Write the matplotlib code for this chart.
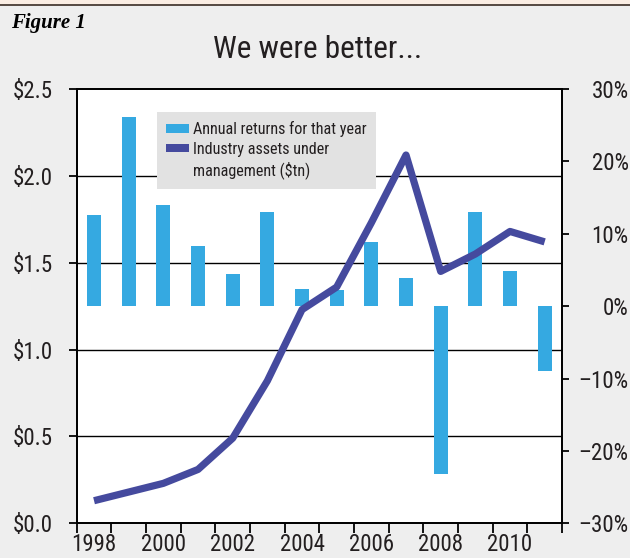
from __future__ import annotations

import matplotlib

matplotlib.use("Agg")
import matplotlib.pyplot as plt
import numpy as np
from matplotlib.patches import Patch, Rectangle
from matplotlib.lines import Line2D
from matplotlib.ticker import FixedLocator, FuncFormatter
from matplotlib.transforms import blended_transform_factory


YEARS = list(range(1998, 2012))
ANNUAL_RETURNS = [12.6, 26.2, 14.0, 8.3, 4.4, 13.0, 2.4, 2.3, 8.9, 3.9, -23.2, 13.0, 4.8, -8.9]
ASSETS_TN = [0.13, 0.18, 0.23, 0.31, 0.49, 0.82, 1.23, 1.36, 1.73, 2.12, 1.45, 1.55, 1.68, 1.62]
ASSET_TICKS = [0.0, 0.5, 1.0, 1.5, 2.0, 2.5]
RETURN_TICKS = [-30, -20, -10, 0, 10, 20, 30]
YEAR_LABELS = ["1998", "2000", "2002", "2004", "2006", "2008", "2010"]

BAR_COLOR = "#35a9e1"
LINE_COLOR = "#454a9e"
TEXT_COLOR = "#231f20"
NARROW = ["Roboto Condensed", "Liberation Sans", "DejaVu Sans"]


def main() -> None:
    plt.rcParams.update(
        {
            "font.family": NARROW,
            "font.size": 16.5,
            "text.color": TEXT_COLOR,
            "xtick.color": "black",
            "ytick.color": "black",
            "xtick.labelcolor": TEXT_COLOR,
            "ytick.labelcolor": TEXT_COLOR,
        }
    )
    fig = plt.figure(figsize=(6.3, 5.58), dpi=100, facecolor="#eeeeee")
    W, H = 630, 558

    # beige strip with rule across the top
    fig.patches.append(
        Rectangle((0, 1 - 4 / H), 1, 4 / H, transform=fig.transFigure, facecolor="#faede3", edgecolor="none")
    )
    fig.lines.append(
        Line2D([0, 1], [1 - 4.5 / H] * 2, transform=fig.transFigure, color="#3b2c24", linewidth=1.2)
    )
    fig.text(11 / W, 1 - 28 / H, "Figure 1", family=["Liberation Serif", "DejaVu Serif"],
             weight="bold", style="italic", fontsize=15, va="baseline", color="black")
    fig.text(318 / W, 1 - 58 / H, "We were better...", fontsize=22.5, ha="center", va="baseline")

    left, right, top, bottom = 76.7, 562, 89, 523.3
    ax_bar = fig.add_axes([left / W, 1 - bottom / H, (right - left) / W, (bottom - top) / H])
    ax_line = ax_bar.twinx()
    ax_bar.set_facecolor("white")

    x = np.arange(len(YEARS))

    # horizontal rules follow the $ scale but sit beneath the bars
    grid_tf = blended_transform_factory(ax_bar.transAxes, ax_line.transData)
    for v in ASSET_TICKS[1:-1]:
        ax_bar.plot([0, 1], [v, v], transform=grid_tf, color="black", linewidth=1.0, zorder=0.5)

    ax_bar.bar(x, ANNUAL_RETURNS, width=0.4, color=BAR_COLOR, zorder=2)
    ax_line.plot(x, ASSETS_TN, color=LINE_COLOR, linewidth=5.2, solid_capstyle="butt", zorder=3)

    ax_bar.set_xlim(-0.5, len(YEARS) - 0.5)
    ax_bar.set_ylim(-30, 30)
    ax_line.set_ylim(0, 2.5)

    # year labels centred on bars, ticks on the boundaries between years
    ax_bar.xaxis.set_major_locator(FixedLocator(x[::2]))
    ax_bar.set_xticklabels(YEAR_LABELS)
    ax_bar.xaxis.set_minor_locator(FixedLocator(np.arange(-0.5, len(YEARS), 1.0)))
    ax_bar.tick_params(axis="x", which="major", length=0, pad=7)
    ax_bar.tick_params(axis="x", which="minor", length=7, width=1.3, direction="out")

    ax_bar.yaxis.tick_right()
    ax_bar.set_yticks(RETURN_TICKS)
    ax_bar.yaxis.set_major_formatter(
        FuncFormatter(lambda v, _: f"{v:.0f}%".replace("-", "\u2013"))
    )
    ax_bar.tick_params(axis="y", length=5, width=1.3, pad=43)
    for lab in ax_bar.get_yticklabels():
        lab.set_horizontalalignment("right")

    ax_line.yaxis.tick_left()
    ax_line.set_yticks(ASSET_TICKS)
    ax_line.yaxis.set_major_formatter(FuncFormatter(lambda v, _: f"${v:.1f}"))
    ax_line.tick_params(axis="y", length=6, width=1.3, pad=11)

    for ax in (ax_bar, ax_line):
        for spine in ax.spines.values():
            spine.set_linewidth(1.3)
            spine.set_color("black")

    # second label wraps onto a line of its own, with no key beside it
    handles = [
        Patch(facecolor=BAR_COLOR, edgecolor="none"),
        Patch(facecolor=LINE_COLOR, edgecolor="none"),
        Patch(facecolor="none", edgecolor="none"),
    ]
    leg = ax_line.legend(
        handles,
        ["Annual returns for that year", "Industry assets under", "management ($tn)"],
        loc="upper left",
        bbox_to_anchor=(0.1648, 0.9477),
        borderaxespad=0,
        fontsize=11.6,
        frameon=True,
        fancybox=False,
        facecolor="#e2e2e2",
        edgecolor="none",
        framealpha=1,
        handlelength=1.4,
        handleheight=0.43,
        handletextpad=0.25,
        labelspacing=0.28,
        borderpad=0.6,
    )
    leg.set_zorder(10)

    fig.savefig("out.png", dpi=100, facecolor=fig.get_facecolor())
    plt.close(fig)


if __name__ == "__main__":
    main()
